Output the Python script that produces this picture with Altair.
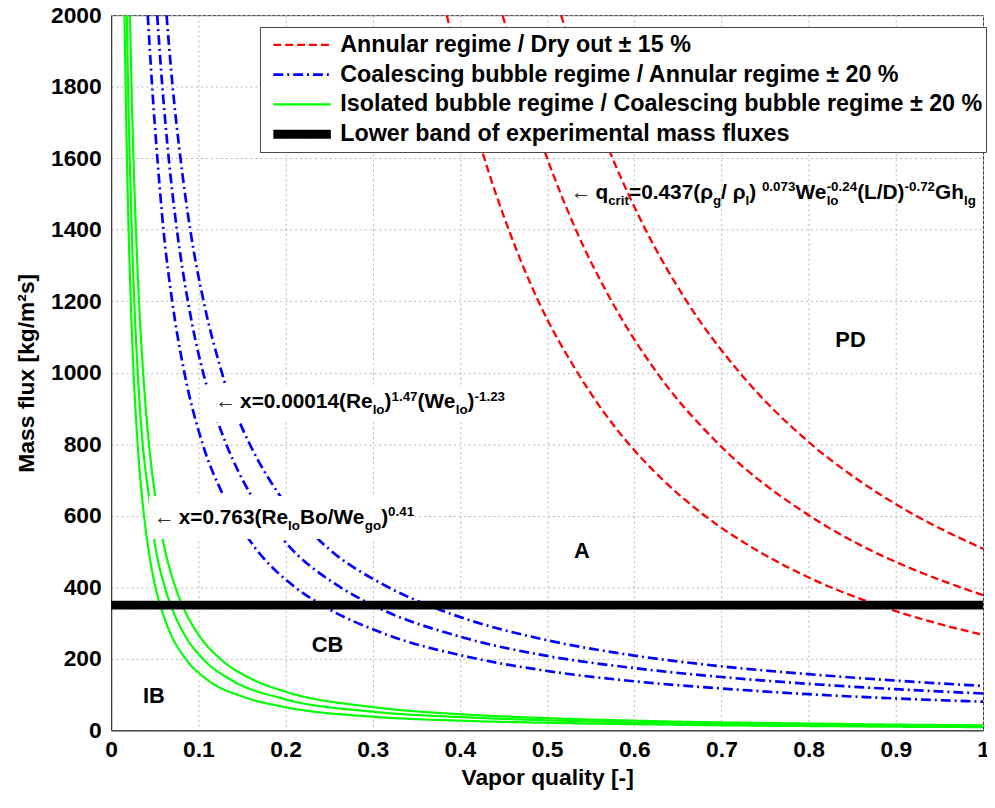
import altair as alt
import pandas as pd

FONT = "Liberation Sans"
W_PLOT, H_PLOT = 879, 721

# ---------------- legend groups / styles ----------------
GROUPS = [
    "Annular regime / Dry out ± 15 %",
    "Coalescing bubble regime / Annular regime ± 20 %",
    "Isolated bubble regime / Coalescing bubble regime ± 20 %",
    "Lower band of experimental mass fluxes",
]
COLORS = ["#ff0000", "#0000ff", "#00ff00", "#000000"]
DASHES = [[8, 4], [10, 4, 2, 4], [1, 0], [1, 0]]
WIDTHS = [2.3, 2.7, 2.2, 9]

X_TICKS = [0, 0.1, 0.2, 0.3, 0.4, 0.5, 0.6, 0.7, 0.8, 0.9, 1.0]
Y_TICKS = [0, 200, 400, 600, 800, 1000, 1200, 1400, 1600, 1800, 2000]

# ---------------- curves ----------------
# Annular / dry out (red, dashed)
R1_X = [0.385, 0.405, 0.428, 0.456, 0.490, 0.535, 0.562, 0.594, 0.633, 0.681, 0.743, 0.803, 0.870, 0.946, 1.000]
R1_G = [2000, 1800, 1600, 1400, 1200, 1000, 900, 800, 700, 600, 500, 424, 358, 300, 267]
R2_X = [0.449, 0.472, 0.500, 0.533, 0.574, 0.626, 0.697, 0.801, 0.874, 0.920, 1.000]
R2_G = [2000, 1800, 1600, 1400, 1200, 1000, 800, 600, 500, 450, 378]
R3_X = [0.516, 0.543, 0.575, 0.613, 0.660, 0.721, 0.803, 0.857, 0.923, 1.000]
R3_G = [2000, 1800, 1600, 1400, 1200, 1000, 800, 700, 600, 508]

# Coalescing bubble / annular (blue, dash-dot)
B1_X = [0.042, 0.047, 0.053, 0.060, 0.070, 0.084, 0.105, 0.129, 0.159, 0.211, 0.242, 0.318, 0.410, 0.500, 0.600, 0.700, 0.800, 0.900, 1.000]
B1_G = [2000, 1800, 1600, 1400, 1200, 1000, 800, 655, 531, 400, 350, 266, 205, 166, 137, 117, 101, 89, 80]
B2_X = [0.0528, 0.0587, 0.066, 0.0754, 0.088, 0.1055, 0.111, 0.1225, 0.132, 0.161, 0.198, 0.263, 0.300, 0.406, 0.500, 0.600, 0.700, 0.800, 0.900, 1.000]
B2_G = [2000, 1800, 1600, 1400, 1200, 1000, 951, 861, 800, 655, 531, 400, 350, 258, 208, 174, 149, 130, 115, 103]
B3_X = [0.0635, 0.0705, 0.0795, 0.0907, 0.106, 0.127, 0.130, 0.1475, 0.159, 0.1925, 0.239, 0.318, 0.363, 0.406, 0.500, 0.600, 0.700, 0.800, 0.900, 1.000]
B3_G = [2000, 1800, 1600, 1400, 1200, 1000, 975, 861, 800, 660, 531, 400, 350, 312, 252, 209, 179, 157, 139, 124]

# Isolated bubble / coalescing bubble (green, solid)
GL_X = [0.0153, 0.0166, 0.0181, 0.0200, 0.0225, 0.0257, 0.0304, 0.0355, 0.0377, 0.0413, 0.0508, 0.0563, 0.0682, 0.0854, 0.111, 0.150, 0.197, 0.300, 0.400, 0.500, 0.600, 0.700, 0.800, 0.900, 1.000]
GL_G = [2000, 1800, 1600, 1400, 1200, 1000, 800, 650, 600, 531, 400, 350, 270, 200, 140, 95, 66, 38, 27, 21, 17, 14, 12, 10, 9]
GM_X = [0.0179, 0.0194, 0.0213, 0.0236, 0.0265, 0.0305, 0.0362, 0.0430, 0.0496, 0.0616, 0.0684, 0.0835, 0.1052, 0.1384, 0.198, 0.300, 0.400, 0.500, 0.600, 0.700, 0.800, 0.900, 1.000]
GM_G = [2000, 1800, 1600, 1400, 1200, 1000, 800, 660, 531, 400, 350, 270, 200, 140, 88, 52, 37, 28, 22, 18, 15, 13, 11]
GR_X = [0.0216, 0.0234, 0.0256, 0.0284, 0.0319, 0.0367, 0.0434, 0.0506, 0.0594, 0.0737, 0.0816, 0.0995, 0.1251, 0.160, 0.200, 0.300, 0.400, 0.500, 0.600, 0.700, 0.800, 0.900, 1.000]
GR_G = [2000, 1800, 1600, 1400, 1200, 1000, 800, 655, 531, 400, 350, 270, 200, 145, 108, 65, 45, 34, 27, 22, 19, 16, 14]

# Lower band of experimental mass fluxes
BAND_X = [0.0, 1.0]
BAND_G = [350, 350]

CURVES = [
    ("R1", 0, R1_X, R1_G), ("R2", 0, R2_X, R2_G), ("R3", 0, R3_X, R3_G),
    ("B1", 1, B1_X, B1_G), ("B2", 1, B2_X, B2_G), ("B3", 1, B3_X, B3_G),
    ("GL", 2, GL_X, GL_G), ("GM", 2, GM_X, GM_G), ("GR", 2, GR_X, GR_G),
]

rows = []
for name, gi, xs, gs in CURVES:
    for xv, gv in zip(xs, gs):
        rows.append({"group": GROUPS[gi], "curve": name, "x": xv, "G": gv})
curve_df = pd.DataFrame(rows)
band_df = pd.DataFrame({"group": GROUPS[3], "curve": "band", "x": BAND_X, "G": BAND_G})

# ---------------- annotations ----------------
REGION_TEXT = ["PD", "A", "CB", "IB"]
REGION_X = [0.848, 0.540, 0.248, 0.049]
REGION_G = [1092, 502, 239, 96]

# white backgrounds of the two correlation labels
BOX_X = [0.106, 0.0435]
BOX_X2 = [0.447, 0.342]
BOX_G = [862, 535]
BOX_G2 = [965, 655]

LABEL1_PARTS = [("←", "arrow"), ("x=0.00014(Re", "n"), ("lo", "sub"), (")", "n"), ("1.47", "sup"),
                ("(We", "n"), ("lo", "sub"), (")", "n"), ("-1.23", "sup")]
LABEL2_PARTS = [("←", "arrow"), ("x=0.763(Re", "n"), ("lo", "sub"), ("Bo/We", "n"), ("go", "sub"),
                (")", "n"), ("0.41", "sup")]
LABELQ_PARTS = [("←", "arrow"), ("q", "n"), ("crit", "sub"), ("=0.437(ρ", "n"), ("g", "sub"),
                ("/ ρ", "n"), ("l", "sub"), (") ", "n"), ("0.073", "sup"), ("We", "n"),
                (("lo", "-0.24"), "subsup"), ("(L/D)", "n"), ("-0.72", "sup"), ("Gh", "n"), ("lg", "sub")]
LABELS = [(LABEL1_PARTS, 0.1194, 900), (LABEL2_PARTS, 0.049, 577), (LABELQ_PARTS, 0.527, 1485)]

MAIN_SIZE, SMALL_SIZE = 21, 13.5
ARROW_ADV = 25

ADV = {" ": 278, "(": 333, ")": 333, "-": 333, ".": 278, "/": 278, "=": 584,
       "0": 556, "1": 556, "2": 556, "3": 556, "4": 556, "5": 556, "6": 556, "7": 556, "8": 556, "9": 556,
       "B": 722, "D": 722, "G": 778, "L": 611, "R": 722, "W": 944,
       "c": 556, "e": 556, "g": 611, "h": 611, "i": 278, "l": 278, "o": 611, "q": 611, "r": 389,
       "t": 333, "x": 556, "ρ": 611}


def tw(s, size):
    return sum(ADV.get(c, 556) for c in s) * size / 1000.0


trows = []
for parts, x0, g0 in LABELS:
    cum = 0.0
    for txt, kind in parts:
        if kind == "arrow":
            trows.append({"kind": "arrow", "text": txt, "x": x0, "G": g0})
            cum += ARROW_ADV
        elif kind == "n":
            trows.append({"kind": "n", "text": txt, "x": x0 + cum / W_PLOT, "G": g0})
            cum += tw(txt, MAIN_SIZE)
        elif kind in ("sub", "sup"):
            trows.append({"kind": kind, "text": txt, "x": x0 + cum / W_PLOT, "G": g0})
            cum += tw(txt, SMALL_SIZE)
        else:
            sb, sp = txt
            trows.append({"kind": "sub", "text": sb, "x": x0 + cum / W_PLOT, "G": g0})
            trows.append({"kind": "sup", "text": sp, "x": x0 + cum / W_PLOT, "G": g0})
            cum += max(tw(sb, SMALL_SIZE), tw(sp, SMALL_SIZE))
text_df = pd.DataFrame(trows)

region_df = pd.DataFrame({"text": REGION_TEXT, "x": REGION_X, "G": REGION_G})
box_df = pd.DataFrame({"x": BOX_X, "x2": BOX_X2, "G": BOX_G, "G2": BOX_G2})

# ---------------- scales / encodings ----------------
xscale = alt.Scale(domain=[0, 1], nice=False, zero=False)
yscale = alt.Scale(domain=[0, 2000], nice=False)

X_ENC = alt.X("x:Q", scale=xscale, axis=alt.Axis(
    values=X_TICKS, format=".1~f", title="Vapor quality [-]", labelFlush=False,
    labelOverlap=False, labelPadding=8, titlePadding=6, ticks=False))
Y_ENC = alt.Y("G:Q", scale=yscale, axis=alt.Axis(
    values=Y_TICKS, format="d", title="Mass flux [kg/m²s]", labelFlush=False,
    labelOverlap=False, labelPadding=10, titlePadding=12, ticks=False))

legend = alt.Legend(
    title=None, orient="none", legendX=150, legendY=12, symbolType="stroke", symbolSize=3364,
    labelFont=FONT, labelFontSize=23.5, labelFontWeight="bold", labelColor="black", labelLimit=900,
    labelOffset=5, symbolOffset=6, padding=3, clipHeight=30, rowPadding=0,
    fillColor="white", strokeColor="#444")

STYLE_ENC = dict(
    color=alt.Color("group:N", scale=alt.Scale(domain=GROUPS, range=COLORS), legend=legend),
    strokeDash=alt.StrokeDash("group:N", scale=alt.Scale(domain=GROUPS, range=DASHES)),
    strokeWidth=alt.StrokeWidth("group:N", scale=alt.Scale(type="ordinal", domain=GROUPS, range=WIDTHS)),
)

lines = alt.Chart(curve_df).mark_line(interpolate="monotone", clip=True).encode(
    x=X_ENC, y=Y_ENC, detail="curve:N", **STYLE_ENC)
band = alt.Chart(band_df).mark_line(clip=True, strokeCap="butt").encode(
    x="x:Q", y="G:Q", detail="curve:N", **STYLE_ENC)

boxes = alt.Chart(box_df).mark_rect(fill="white").encode(
    x="x:Q", x2="x2:Q", y="G:Q", y2="G2:Q")


def tlayer(kind, size, dy, weight="bold", color="black"):
    return alt.Chart(text_df).transform_filter(alt.datum.kind == kind).mark_text(
        align="left", baseline="alphabetic", font=FONT, fontSize=size, fontWeight=weight,
        dy=dy, color=color).encode(x="x:Q", y="G:Q", text="text:N")


t_arrow = tlayer("arrow", MAIN_SIZE, 0, weight="normal", color="#333")
t_main = tlayer("n", MAIN_SIZE, 0)
t_sub = tlayer("sub", SMALL_SIZE, 6)
t_sup = tlayer("sup", SMALL_SIZE, -8)

regions = alt.Chart(region_df).mark_text(
    align="center", baseline="middle", font=FONT, fontSize=22, fontWeight="bold", color="black"
).encode(x="x:Q", y="G:Q", text="text:N")

chart = alt.layer(lines, band, boxes, t_arrow, t_main, t_sub, t_sup, regions).properties(
    width=W_PLOT, height=H_PLOT,
    padding={"left": 104, "top": 4, "right": 4, "bottom": 62},
    autosize=alt.AutoSizeParams(type="none"),
).configure_view(stroke="#333", strokeWidth=1).configure_axis(
    labelFont=FONT, titleFont=FONT, labelFontSize=23, titleFontSize=23,
    labelFontWeight="bold", titleFontWeight="bold", labelColor="black", titleColor="black",
    grid=True, gridColor="#b5b5b5", gridDash=[2, 3], gridWidth=1, domainColor="#333",
)

chart.save("out.html", embed_options={"renderer": "svg", "actions": False})
